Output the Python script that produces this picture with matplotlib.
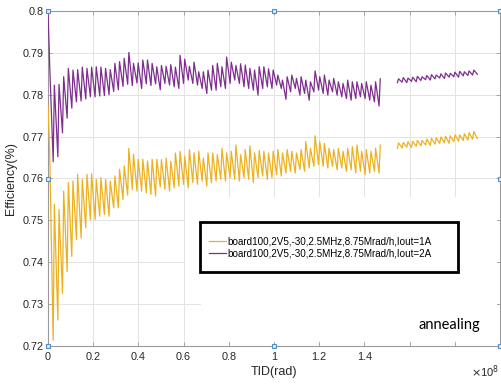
import matplotlib.pyplot as plt
import numpy as np
from matplotlib.patches import Rectangle

plt.rcParams['font.family'] = ['Liberation Sans', 'DejaVu Sans']

# dose in units of 1e8 rad
cycle_step = 0.0206
first_peak = 0.0075
anneal_start = 1.546
anneal_step = 0.0208

labels = ["board100,2V5,-30,2.5MHz,8.75Mrad/h,Iout=1A",
          "board100,2V5,-30,2.5MHz,8.75Mrad/h,Iout=2A"]

start_1a = 0.7775
start_2a = 0.800

# Iout=2A, per-cycle maxima and minima during irradiation
peaks_2a = [0.7870, 0.7823, 0.7825, 0.7843, 0.7863, 0.7859, 0.7860, 0.7866,
            0.7863, 0.7866, 0.7867, 0.7866, 0.7863, 0.7860, 0.7875, 0.7879,
            0.7887, 0.7901, 0.7875, 0.7876, 0.7883, 0.7883, 0.7875, 0.7867,
            0.7870, 0.7868, 0.7872, 0.7866, 0.7894, 0.7885, 0.7868, 0.7878,
            0.7855, 0.7855, 0.7859, 0.7870, 0.7875, 0.7867, 0.7890, 0.7878,
            0.7870, 0.7874, 0.7871, 0.7863, 0.7859, 0.7867, 0.7867, 0.7862,
            0.7859, 0.7847, 0.7835, 0.7843, 0.7847, 0.7839, 0.7843, 0.7835,
            0.7831, 0.7857, 0.7843, 0.7847, 0.7835, 0.7839, 0.7831, 0.7827,
            0.7835, 0.7831, 0.7831, 0.7827, 0.7831, 0.7823, 0.7831, 0.7838]
troughs_2a = [0.7640, 0.7652, 0.7709, 0.7744, 0.7768, 0.7783, 0.7785, 0.7790,
              0.7795, 0.7795, 0.7797, 0.7798, 0.7800, 0.7808, 0.7812, 0.7820,
              0.7825, 0.7822, 0.7828, 0.7815, 0.7826, 0.7822, 0.7826, 0.7812,
              0.7827, 0.7823, 0.7819, 0.7815, 0.7827, 0.7835, 0.7827, 0.7823,
              0.7815, 0.7803, 0.7811, 0.7811, 0.7819, 0.7815, 0.7827, 0.7835,
              0.7827, 0.7819, 0.7815, 0.7811, 0.7799, 0.7815, 0.7819, 0.7815,
              0.7823, 0.7815, 0.7789, 0.7807, 0.7815, 0.7799, 0.7803, 0.7787,
              0.7807, 0.7811, 0.7803, 0.7799, 0.7807, 0.7799, 0.7795, 0.7791,
              0.7787, 0.7791, 0.7795, 0.7791, 0.7787, 0.7783, 0.7773]

# Iout=1A
peaks_1a = [0.7662, 0.7538, 0.7526, 0.7570, 0.7590, 0.7594, 0.7610, 0.7598,
            0.7610, 0.7611, 0.7598, 0.7602, 0.7598, 0.7594, 0.7606, 0.7622,
            0.7630, 0.7672, 0.7658, 0.7646, 0.7646, 0.7642, 0.7646, 0.7646,
            0.7645, 0.7649, 0.7641, 0.7661, 0.7665, 0.7653, 0.7669, 0.7661,
            0.7665, 0.7649, 0.7661, 0.7661, 0.7657, 0.7672, 0.7661, 0.7665,
            0.7680, 0.7657, 0.7669, 0.7678, 0.7661, 0.7667, 0.7665, 0.7661,
            0.7665, 0.7669, 0.7661, 0.7669, 0.7665, 0.7661, 0.7669, 0.7688,
            0.7672, 0.7702, 0.7688, 0.7684, 0.7672, 0.7669, 0.7672, 0.7665,
            0.7672, 0.7676, 0.7680, 0.7665, 0.7669, 0.7665, 0.7672, 0.7680]
troughs_1a = [0.7214, 0.7262, 0.7326, 0.7378, 0.7414, 0.7454, 0.7458, 0.7482,
              0.7502, 0.7502, 0.7510, 0.7514, 0.7510, 0.7530, 0.7530, 0.7550,
              0.7560, 0.7574, 0.7570, 0.7570, 0.7566, 0.7562, 0.7558, 0.7580,
              0.7574, 0.7570, 0.7578, 0.7582, 0.7586, 0.7578, 0.7590, 0.7586,
              0.7594, 0.7582, 0.7590, 0.7594, 0.7598, 0.7594, 0.7602, 0.7598,
              0.7594, 0.7602, 0.7598, 0.7590, 0.7602, 0.7606, 0.7598, 0.7602,
              0.7609, 0.7606, 0.7613, 0.7617, 0.7613, 0.7621, 0.7617, 0.7625,
              0.7629, 0.7633, 0.7629, 0.7625, 0.7629, 0.7621, 0.7625, 0.7617,
              0.7621, 0.7613, 0.7617, 0.7609, 0.7613, 0.7617, 0.7613]

# annealing segment
anneal_troughs_2a = [0.7829, 0.7830, 0.7829, 0.7832, 0.7831, 0.7834, 0.7836, 0.7835,
                     0.7838, 0.7840, 0.7839, 0.7842, 0.7843, 0.7842, 0.7845, 0.7846,
                     0.7847, 0.7849]
anneal_peaks_2a = [0.7838, 0.7841, 0.7840, 0.7842, 0.7844, 0.7843, 0.7846, 0.7848,
                   0.7847, 0.7850, 0.7852, 0.7851, 0.7854, 0.7856, 0.7855, 0.7857,
                   0.7859]
anneal_troughs_1a = [0.7672, 0.7673, 0.7675, 0.7674, 0.7677, 0.7678, 0.7680, 0.7679,
                     0.7682, 0.7684, 0.7685, 0.7684, 0.7688, 0.7689, 0.7691, 0.7692,
                     0.7694, 0.7696]
anneal_peaks_1a = [0.7685, 0.7686, 0.7688, 0.7689, 0.7691, 0.7691, 0.7694, 0.7696,
                   0.7697, 0.7699, 0.7701, 0.7702, 0.7704, 0.7704, 0.7707, 0.7709,
                   0.7712]


def irradiation_curve(start_val, peaks, troughs):
    xs = [0.0]
    ys = [start_val]
    for i, p in enumerate(peaks):
        xs.append(first_peak + i * cycle_step)
        ys.append(p)
        if i < len(troughs):
            xs.append(first_peak + (i + 0.75) * cycle_step)
            ys.append(troughs[i])
    return np.array(xs), np.array(ys)


def anneal_curve(peaks, troughs):
    xs, ys = [], []
    for k, t in enumerate(troughs):
        xs.append(anneal_start + k * anneal_step)
        ys.append(t)
        if k < len(peaks):
            xs.append(anneal_start + (k + 0.25) * anneal_step)
            ys.append(peaks[k])
    return np.array(xs), np.array(ys)


yellow = "#EDB120"
purple = "#7E2F8E"
axis_grey = "#9a9a9a"
text_grey = "#262626"

fig = plt.figure(figsize=(5.01, 3.85), dpi=100)
ax = fig.add_axes([48 / 501, 1 - 346 / 385, 452 / 501, 335 / 385])
ax.set_axisbelow(True)

x1, y1 = irradiation_curve(start_1a, peaks_1a, troughs_1a)
x2, y2 = irradiation_curve(start_2a, peaks_2a, troughs_2a)
ax1, ay1 = anneal_curve(anneal_peaks_1a, anneal_troughs_1a)
ax2, ay2 = anneal_curve(anneal_peaks_2a, anneal_troughs_2a)

l1, = ax.plot(x1, y1, color=yellow, lw=0.9, zorder=3)
l2, = ax.plot(x2, y2, color=purple, lw=0.9, zorder=3)
ax.plot(ax1, ay1, color=yellow, lw=0.9, zorder=3)
ax.plot(ax2, ay2, color=purple, lw=0.9, zorder=3)

ax.set_xlim(0, 2.0)
ax.set_ylim(0.72, 0.80)
xt = np.arange(0, 2.01, 0.2)
ax.set_xticks(xt)
ax.set_xticklabels(['0', '0.2', '0.4', '0.6', '0.8', '1', '1.2', '1.4', '', '', ''])
ax.set_yticks(np.arange(0.72, 0.8001, 0.01))
ax.set_yticklabels(['0.72', '0.73', '0.74', '0.75', '0.76', '0.77', '0.78', '0.79', '0.8'])
ax.tick_params(direction='in', length=3, width=0.6, color=axis_grey,
               labelcolor=text_grey, labelsize=7.8, top=True, right=True, pad=3)
ax.tick_params(axis='x', pad=4)
for s in ax.spines.values():
    s.set_color(axis_grey)
    s.set_linewidth(0.8)
ax.grid(True, color="#e3e3e3", lw=0.7)

# blank areas in the lower right of the plot
ax.add_patch(Rectangle((0.605, 0.7385), 1.38, 0.017, facecolor='white',
                       edgecolor='none', zorder=0.8))
ax.add_patch(Rectangle((0.675, 0.7212), 1.31, 0.0175, facecolor='white',
                       edgecolor='none', zorder=0.8))

ax.set_xlabel("TID(rad)", fontsize=9, color=text_grey, labelpad=3)
ax.set_ylabel("Efficiency(%)", fontsize=9, color=text_grey, labelpad=4)
fig.text(0.996, 0.012, r"$\times$10$^{8}$", fontsize=8,
         color=text_grey, ha='right', va='bottom')

# selection handles around the axes
hx = [0, 0, 0, 0.5, 0.5, 1, 1, 1]
hy = [0, 0.5, 1, 0, 1, 0, 0.5, 1]
ax.plot(hx, hy, 's', ms=3, mfc='#dbe9f6', mec='#4f8fcf', mew=0.8,
        transform=ax.transAxes, clip_on=False, zorder=5)

ax.text(0.887, 0.063, "annealing", transform=ax.transAxes, fontsize=10.5,
        family=['Lato', 'DejaVu Sans'], ha='center', va='center', color='black')

box = Rectangle((200 / 501, 1 - 272 / 385), 258 / 501, 50 / 385,
                transform=fig.transFigure, facecolor='white', edgecolor='black',
                lw=2, zorder=4)
fig.add_artist(box)
leg = fig.legend([l1, l2], labels, loc='upper left',
                 bbox_to_anchor=(209 / 501, 1 - 236 / 385), frameon=False,
                 fontsize=7.1, handlelength=1.7, handletextpad=0.15,
                 labelspacing=0.25, borderpad=0, borderaxespad=0)
leg.set_zorder(6)

fig.savefig("out.png", dpi=100)
